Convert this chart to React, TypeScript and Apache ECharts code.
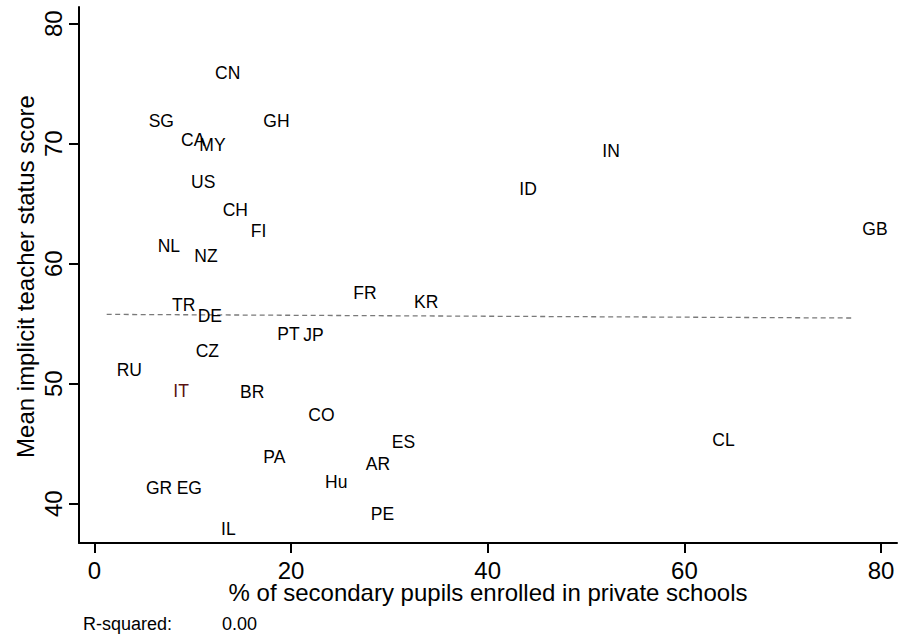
import React, { useEffect, useRef } from "react";
import * as echarts from "echarts";

// Country codes and read-off values
const countries = ["CN","SG","GH","CA","MY","US","CH","FI","NL","NZ","TR","DE","FR","KR","PT","JP","CZ","RU","IT","BR","CO","ES","PA","AR","Hu","GR","EG","PE","IL","CL","IN","ID","GB"];
const pctPrivate = [11.26,4.51,16.17,7.80,9.66,8.82,12.04,14.89,5.43,9.15,6.88,9.50,25.32,31.49,17.59,20.24,9.29,1.26,7.02,13.80,20.74,29.23,16.17,26.58,22.44,4.24,7.36,27.09,11.87,61.83,50.64,42.20,77.08];
const statusScore = [75.89,71.87,71.89,70.33,69.85,66.81,64.50,62.71,61.46,60.66,56.53,55.61,57.58,56.78,54.10,54.06,52.70,51.16,49.37,49.28,47.39,45.16,43.85,43.33,41.83,41.31,41.31,39.16,37.91,45.31,69.36,66.20,62.87];
const xTicks = [0, 20, 40, 60, 80];
const yTicks = [40, 50, 60, 70, 80];
const rSquaredText = "0.00";

const FONT = "'Liberation Sans', Arial, Helvetica, sans-serif";

function fitLine(xs: number[], ys: number[]) {
  const n = xs.length;
  const mx = xs.reduce((a, b) => a + b, 0) / n;
  const my = ys.reduce((a, b) => a + b, 0) / n;
  let sxy = 0, sxx = 0;
  for (let i = 0; i < n; i++) {
    sxy += (xs[i] - mx) * (ys[i] - my);
    sxx += (xs[i] - mx) * (xs[i] - mx);
  }
  const b = sxy / sxx;
  const a = my - b * mx;
  const x0 = Math.min(...xs);
  const x1 = Math.max(...xs);
  return [[x0, a + b * x0], [x1, a + b * x1]];
}

export default function App() {
  const ref = useRef<HTMLDivElement>(null);
  useEffect(() => {
    if (!ref.current) return;
    const chart = echarts.init(ref.current, undefined, { renderer: "svg" });
    const pts = countries.map((c, i) => ({
      value: [pctPrivate[i], statusScore[i], c],
      label: c === "IT" ? { color: "#5a1212" } : undefined,
    }));
    const line = fitLine(pctPrivate, statusScore);
    chart.setOption({
      animation: false,
      backgroundColor: "#ffffff",
      textStyle: { fontFamily: FONT },
      grid: { left: 79, top: 7, width: 818, height: 536, containLabel: false },
      xAxis: {
        type: "value",
        min: -1.556,
        max: 81.62,
        splitLine: { show: false },
        axisLine: { show: true, onZero: false, lineStyle: { color: "#000", width: 2 } },
        axisTick: { show: true, customValues: xTicks, length: 10, inside: false, lineStyle: { color: "#000", width: 2 } },
        axisLabel: { customValues: xTicks, fontSize: 24, color: "#000", margin: 15, fontFamily: FONT },
      },
      yAxis: {
        type: "value",
        min: 36.72,
        max: 81.39,
        splitLine: { show: false },
        axisLine: { show: true, onZero: false, lineStyle: { color: "#000", width: 2 } },
        axisTick: { show: true, customValues: yTicks, length: 10, inside: false, lineStyle: { color: "#000", width: 2 } },
        axisLabel: { customValues: yTicks, fontSize: 24, color: "#000", margin: 14, rotate: 90, fontFamily: FONT },
      },
      graphic: [
        {
          type: "text", x: 488, y: 592,
          style: { text: "% of secondary pupils enrolled in private schools", fontSize: 24, fontFamily: FONT, fill: "#000", align: "center", verticalAlign: "middle" },
        },
        {
          type: "text", x: 25, y: 276.5, rotation: Math.PI / 2,
          style: { text: "Mean implicit teacher status score", fontSize: 24, fontFamily: FONT, fill: "#000", align: "center", verticalAlign: "middle" },
        },
        {
          type: "text", x: 83, y: 624,
          style: { text: "R-squared:", fontSize: 18, fontFamily: FONT, fill: "#000", align: "left", verticalAlign: "middle" },
        },
        {
          type: "text", x: 222, y: 624,
          style: { text: rSquaredText, fontSize: 18, fontFamily: FONT, fill: "#000", align: "left", verticalAlign: "middle" },
        },
      ],
      series: [
        {
          type: "line",
          data: line,
          symbol: "none",
          silent: true,
          lineStyle: { color: "#7a7a7a", width: 1.3, type: [5, 3.5] },
          z: 1,
        },
        {
          type: "scatter",
          data: pts,
          symbolSize: 0,
          itemStyle: { color: "#000", opacity: 1 },
          silent: true,
          label: {
            show: true,
            position: "right",
            distance: 10,
            formatter: (p: any) => p.value[2],
            fontSize: 17.5,
            color: "#000",
            opacity: 1,
            textBorderWidth: 0,
            fontFamily: FONT,
          },
          labelLayout: { hideOverlap: false },
          z: 2,
        },
      ],
    });
    return () => chart.dispose();
  }, []);
  return <div ref={ref} style={{ position: "fixed", left: 0, top: 0, width: 903, height: 638, background: "#fff" }} />;
}
